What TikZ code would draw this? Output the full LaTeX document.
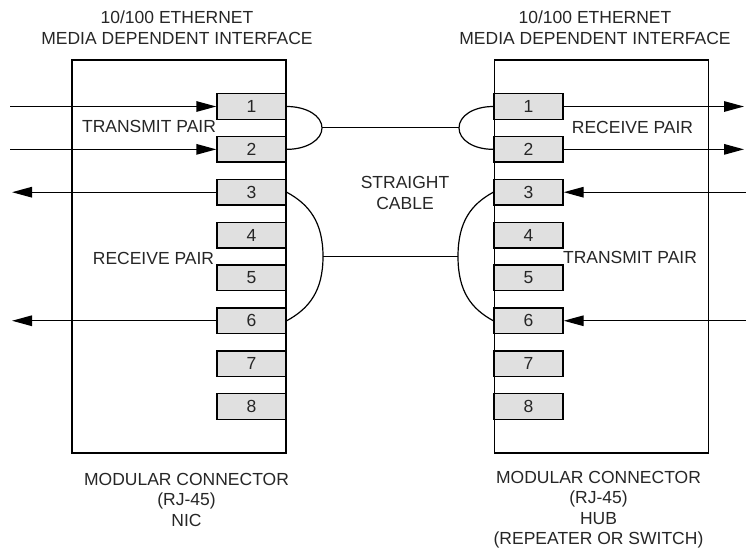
\documentclass[tikz,border=0pt]{standalone}
\usepackage{fontspec}
\setmainfont{Liberation Sans}
\usetikzlibrary{arrows.meta}

\begin{document}
\begin{tikzpicture}[x=1pt,y=-1pt,line width=1.4pt,
    every node/.style={font=\fontsize{17.5}{20.5}\selectfont,text=black!85},
    pin/.style={draw,fill=black!12,minimum width=69pt,minimum height=25.5pt,inner sep=0pt},
    housing/.style={draw,minimum width=214pt,minimum height=393pt},
    sig/.style={-{Stealth[length=20pt,width=10.5pt,inset=0pt]}}]
  \useasboundingbox (0,0) rectangle (746,550);

  % the two modular connectors
  \node[housing] (nic) at (179,256.5) {};
  \node[housing] (hub) at (601.5,256.5) {};

  \foreach \i in {1,...,8} {
    \node[pin] (l\i) at (251.5,{106.5+42.85*(\i-1)}) {\i};
    \node[pin] (r\i) at (528.5,{106.5+42.85*(\i-1)}) {\i};
  }

  % signal lines
  \foreach \i in {1,2} {
    \coordinate (li\i) at (10,0 |- l\i.west);
    \coordinate (ro\i) at (744,0 |- r\i.east);
    \draw[sig] (li\i) -- (l\i.west);
    \draw[sig] (r\i.east) -- (ro\i);
  }
  \foreach \i in {3,6} {
    \coordinate (lo\i) at (12,0 |- l\i.west);
    \coordinate (ri\i) at (746,0 |- r\i.east);
    \draw[sig] (l\i.west) -- (lo\i);
    \draw[sig] (ri\i) -- (r\i.east);
  }

  % straight cable
  \coordinate (lb12) at (322,127.9);
  \coordinate (rb12) at (459,127.9);
  \coordinate (lb36) at (323,256.5);
  \coordinate (rb36) at (458,256.5);
  \draw[line width=1.2pt] (l1.east) .. controls +(20,0) and +(0,-12) .. (lb12)
                  .. controls +(0,12) and +(20,0) .. (l2.east);
  \draw[line width=1.2pt] (r1.west) .. controls +(-20,0) and +(0,-12) .. (rb12)
                  .. controls +(0,12) and +(-20,0) .. (r2.west);
  \draw[line width=1.2pt] (l3.east) .. controls +(22,12) and +(0,-35) .. (lb36)
                  .. controls +(0,35) and +(22,-12) .. (l6.east);
  \draw[line width=1.2pt] (r3.west) .. controls +(-22,12) and +(0,-35) .. (rb36)
                  .. controls +(0,35) and +(-22,-12) .. (r6.west);
  \draw[line width=1pt] (lb12) -- (rb12);
  \draw[line width=1pt] (lb36) -- (rb36);

  % labels
  \node[align=center] (titleL) at (177,27.5) {10/100 ETHERNET\\MEDIA DEPENDENT INTERFACE};
  \node[align=center] (titleR) at (595,27.5) {10/100 ETHERNET\\MEDIA DEPENDENT INTERFACE};
  \node (txL) at (149,126) {TRANSMIT PAIR};
  \node (rxL) at (153.5,258) {RECEIVE PAIR};
  \node (rxR) at (632.5,127) {RECEIVE PAIR};
  \node (txR) at (630,257) {TRANSMIT PAIR};
  \node[align=center] (cable) at (405,193) {STRAIGHT\\CABLE};
  \node[align=center] (nicL) at (186.5,499.5) {MODULAR CONNECTOR\\(RJ-45)\\NIC};
  \node[align=center] (hubL) at (598.5,509.5) {MODULAR CONNECTOR\\(RJ-45)\\HUB\\(REPEATER OR SWITCH)};
\end{tikzpicture}
\end{document}
